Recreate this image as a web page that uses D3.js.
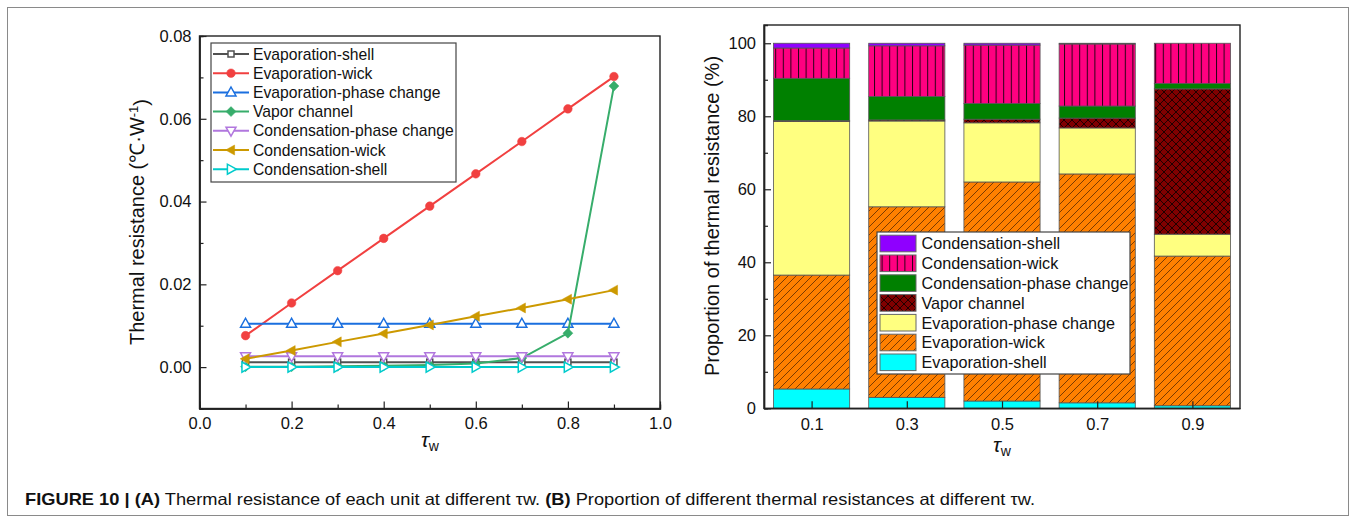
<!DOCTYPE html>
<html><head><meta charset="utf-8">
<script src="https://cdn.jsdelivr.net/npm/d3@7"></script>
<style>
body{margin:0;background:#fff}
svg{display:block}
text{font-family:"Liberation Sans",Arial,sans-serif;fill:#111}
</style>
</head><body>
<svg id="c" width="1356" height="523"></svg>
<script>
// ---------- DATA: panel A (thermal resistance, °C/W) ----------
const tauW = [0.1, 0.2, 0.3, 0.4, 0.5, 0.6, 0.7, 0.8, 0.9];
const evapShell   = [0.0012, 0.0012, 0.0012, 0.0012, 0.0012, 0.0012, 0.0012, 0.0012, 0.0012];
const evapWick    = [0.0076, 0.0155, 0.0233, 0.0311, 0.0389, 0.0467, 0.0545, 0.0624, 0.0702];
const evapPhase   = [0.0105, 0.0105, 0.0105, 0.0105, 0.0105, 0.0105, 0.0105, 0.0105, 0.0105];
const vaporChan   = [0.0001, 0.0001, 0.0002, 0.0003, 0.0005, 0.0009, 0.0022, 0.0082, 0.0679];
const condPhase   = [0.0026, 0.0026, 0.0026, 0.0026, 0.0026, 0.0026, 0.0026, 0.0026, 0.0026];
const condWick    = [0.0020, 0.0040, 0.0061, 0.0081, 0.0102, 0.0123, 0.0143, 0.0164, 0.0186];
const condShell   = [0.0000, 0.0000, 0.0000, 0.0000, 0.0000, 0.0000, 0.0000, 0.0000, 0.0000];
const yTicksA = [0.00, 0.02, 0.04, 0.06, 0.08];
const xTicksA = [0.0, 0.2, 0.4, 0.6, 0.8, 1.0];

// ---------- DATA: panel B (proportion, %) ----------
const barCats     = [0.1, 0.3, 0.5, 0.7, 0.9];
const pEvapShell  = [5.3, 3.0, 2.0, 1.5, 0.7];
const pEvapWick   = [31.2, 52.2, 60.0, 62.7, 41.0];
const pEvapPhase  = [42.1, 23.5, 16.2, 12.6, 6.0];
const pVapor      = [0.2, 0.3, 1.0, 2.7, 39.8];
const pCondPhase  = [11.6, 6.4, 4.3, 3.3, 1.5];
const pCondWick   = [8.3, 13.9, 16.0, 17.0, 11.0];
const pCondShell  = [1.3, 0.7, 0.5, 0.2, 0.0];
const yTicksB = [0, 20, 40, 60, 80, 100];

const svg = d3.select("#c");
const defs = svg.append("defs");

// outer frame
svg.append("rect").attr("x",7.5).attr("y",7.5).attr("width",1341).attr("height",508)
  .attr("fill","none").attr("stroke","#8a8a8a").attr("stroke-width",1);

// ================= PANEL A =================
const xA = d3.scaleLinear().domain([0,1]).range([199.5,660]);
const yA = d3.scaleLinear().domain([-0.01,0.08]).range([408.5,36]);
const gA = svg.append("g");

function axisStyle(g){
  g.selectAll(".domain").attr("stroke","#222").attr("stroke-width",1.4);
  g.selectAll(".tick line").attr("stroke","#222").attr("stroke-width",1.2);
  g.selectAll("text").style("font-size","16.5px").attr("fill","#111");
}
gA.append("rect").attr("x",xA(0)).attr("y",yA(0.08)).attr("width",xA(1)-xA(0)).attr("height",yA(-0.01)-yA(0.08))
  .attr("fill","none").attr("stroke","#222").attr("stroke-width",1.4);
gA.append("g").attr("transform",`translate(0,${yA(-0.01)})`)
  .call(d3.axisBottom(xA).tickValues(d3.range(0.1,1,0.2)).tickSize(-4).tickFormat(""))
  .call(axisStyle);
gA.append("g").attr("transform",`translate(${xA(0)},0)`)
  .call(d3.axisLeft(yA).tickValues([-0.01,0.01,0.03,0.05,0.07]).tickSize(-4).tickFormat(""))
  .call(axisStyle);
gA.append("g").attr("transform",`translate(0,${yA(-0.01)})`)
  .call(d3.axisBottom(xA).tickValues(xTicksA).tickSizeInner(-7).tickSizeOuter(0).tickPadding(9).tickFormat(d3.format(".1f")))
  .call(axisStyle);
gA.append("g").attr("transform",`translate(${xA(0)},0)`)
  .call(d3.axisLeft(yA).tickValues(yTicksA).tickSizeInner(-7).tickSizeOuter(0).tickPadding(8).tickFormat(d3.format(".2f")))
  .call(axisStyle);

function tri(dir, s){
  const h = s*0.9, w = s;
  let pts;
  if(dir==="up") pts=[[0,-h*0.6],[w/2,h*0.4],[-w/2,h*0.4]];
  if(dir==="down") pts=[[0,h*0.6],[w/2,-h*0.4],[-w/2,-h*0.4]];
  if(dir==="left") pts=[[-h*0.6,0],[h*0.4,-w/2],[h*0.4,w/2]];
  if(dir==="right") pts=[[h*0.6,0],[-h*0.4,-w/2],[-h*0.4,w/2]];
  return "M"+pts.map(p=>p.join(",")).join("L")+"Z";
}
const seriesA = [
  {name:"Evaporation-shell", vals:evapShell, color:"#515151", mk:"square", fill:false},
  {name:"Evaporation-wick", vals:evapWick, color:"#F14040", mk:"circle", fill:true},
  {name:"Evaporation-phase change", vals:evapPhase, color:"#1A6FDF", mk:"up", fill:false},
  {name:"Vapor channel", vals:vaporChan, color:"#37AD6B", mk:"diamond", fill:true},
  {name:"Condensation-phase change", vals:condPhase, color:"#B177DE", mk:"down", fill:false},
  {name:"Condensation-wick", vals:condWick, color:"#CC9900", mk:"left", fill:true},
  {name:"Condensation-shell", vals:condShell, color:"#00CBCC", mk:"right", fill:false}
];
function drawMarker(g, s, x, y){
  let el;
  if(s.mk==="circle") el = g.append("circle").attr("cx",x).attr("cy",y).attr("r",4.3);
  else if(s.mk==="square") el = g.append("rect").attr("x",x-3).attr("y",y-3).attr("width",6).attr("height",6);
  else if(s.mk==="diamond") el = g.append("path").attr("d",`M${x},${y-5}L${x+5},${y}L${x},${y+5}L${x-5},${y}Z`);
  else el = g.append("path").attr("transform",`translate(${x},${y})`).attr("d",tri(s.mk,10));
  el.attr("fill", s.fill? s.color : "#fff").attr("stroke", s.color).attr("stroke-width", s.fill?0.5:1.5);
}
const line = d3.line().x(d=>xA(d[0])).y(d=>yA(d[1]));
const linesG = gA.append("g");
seriesA.forEach(s=>{
  const pts = tauW.map((t,i)=>[t,s.vals[i]]);
  const g = linesG.append("g");
  g.append("path").attr("d",line(pts)).attr("fill","none").attr("stroke",s.color).attr("stroke-width",2);
  pts.forEach(p=>drawMarker(g,s,xA(p[0]),yA(p[1])));
});
const legA = gA.append("g");
legA.append("rect").attr("x",211).attr("y",43).attr("width",245).attr("height",139)
  .attr("fill","#fff").attr("stroke","#444").attr("stroke-width",1.2);
seriesA.forEach((s,i)=>{
  const y = 54 + i*19.2;
  legA.append("line").attr("x1",213).attr("x2",249).attr("y1",y).attr("y2",y).attr("stroke",s.color).attr("stroke-width",2);
  drawMarker(legA,s,231,y);
  legA.append("text").attr("x",253).attr("y",y).attr("dy","0.36em").style("font-size","15.7px").text(s.name);
});
const tA = gA.append("text").attr("transform","translate(144,222) rotate(-90)").attr("text-anchor","middle").style("font-size","20px");
tA.append("tspan").text("Thermal resistance (℃·W");
tA.append("tspan").attr("dy","-0.5em").style("font-size","13px").text("-1");
tA.append("tspan").attr("dy","0.5em").text(")");
const xtA = gA.append("text").attr("x",430).attr("y",447).attr("text-anchor","middle").style("font-size","21px");
xtA.append("tspan").style("font-style","italic").text("τ");
xtA.append("tspan").attr("dy","0.3em").style("font-size","14px").text("w");

// ================= PANEL B =================
const xB = d3.scaleLinear().domain([0,1]).range([764,1240]);
const yB = d3.scaleLinear().domain([0,105]).range([408.3,25]);
const gB = svg.append("g");

function pat(id,w,h){ return defs.append("pattern").attr("id",id).attr("patternUnits","userSpaceOnUse").attr("width",w).attr("height",h); }
const pw = pat("pCondWick",7.6,10);
pw.append("rect").attr("width",7.6).attr("height",10).attr("fill","#FF0080");
pw.append("line").attr("x1",0.5).attr("x2",0.5).attr("y1",0).attr("y2",10).attr("stroke","#2a0016").attr("stroke-width",1);
const pv = pat("pVapor",8,8);
pv.append("rect").attr("width",8).attr("height",8).attr("fill","#800000");
pv.append("path").attr("d","M0,0L8,8M8,0L0,8").attr("stroke","#150000").attr("stroke-width",0.9);
const pe = pat("pEvapWick",8,8);
pe.append("rect").attr("width",8).attr("height",8).attr("fill","#FF8000");
pe.append("path").attr("d","M0,8L8,0M-2,2L2,-2M6,10L10,6").attr("stroke","#5a2a00").attr("stroke-width",0.8);

const seriesB = [
  {name:"Evaporation-shell", key:"es", vals:pEvapShell, fill:"#00FFFF"},
  {name:"Evaporation-wick", key:"ew", vals:pEvapWick, fill:"url(#pEvapWick)"},
  {name:"Evaporation-phase change", key:"ep", vals:pEvapPhase, fill:"#FFFF80"},
  {name:"Vapor channel", key:"vc", vals:pVapor, fill:"url(#pVapor)"},
  {name:"Condensation-phase change", key:"cp", vals:pCondPhase, fill:"#008000"},
  {name:"Condensation-wick", key:"cw", vals:pCondWick, fill:"url(#pCondWick)"},
  {name:"Condensation-shell", key:"cs", vals:pCondShell, fill:"#8F00FF"}
];
const table = barCats.map((c,i)=>{ const o={cat:c}; seriesB.forEach(s=>o[s.key]=s.vals[i]); return o; });
const stack = d3.stack().keys(seriesB.map(s=>s.key))(table);
const barW = xB(0.16)-xB(0);
stack.forEach((layer,li)=>{
  gB.append("g").selectAll("rect").data(layer).join("rect")
    .attr("x",d=>xB(d.data.cat)-barW/2).attr("width",barW)
    .attr("y",d=>yB(d[1])).attr("height",d=>Math.max(0,yB(d[0])-yB(d[1])))
    .attr("fill",seriesB[li].fill).attr("stroke","#555").attr("stroke-width",0.8);
});
gB.append("rect").attr("x",xB(0)).attr("y",yB(105)).attr("width",xB(1)-xB(0)).attr("height",yB(0)-yB(105))
  .attr("fill","none").attr("stroke","#222").attr("stroke-width",1.4);
gB.append("g").attr("transform",`translate(${xB(0)},0)`)
  .call(d3.axisLeft(yB).tickValues([10,30,50,70,90]).tickSize(-4).tickFormat(""))
  .call(axisStyle);
gB.append("g").attr("transform",`translate(${xB(0)},0)`)
  .call(d3.axisLeft(yB).tickValues(yTicksB).tickSizeInner(-7).tickSizeOuter(0).tickPadding(8))
  .call(axisStyle);
gB.append("g").attr("transform",`translate(0,${yB(0)})`)
  .call(d3.axisBottom(xB).tickValues(barCats).tickSizeInner(-7).tickSizeOuter(0).tickPadding(10).tickFormat(d3.format(".1f")))
  .call(axisStyle);

const legB = gB.append("g");
legB.append("rect").attr("x",877).attr("y",232).attr("width",253).attr("height",142)
  .attr("fill","#fff").attr("stroke","#444").attr("stroke-width",1.2);
seriesB.slice().reverse().forEach((s,i)=>{
  const y = 243.5 + i*19.8;
  legB.append("rect").attr("x",880).attr("y",y-8.3).attr("width",36).attr("height",16.6)
    .attr("fill",s.fill).attr("stroke","#666").attr("stroke-width",1);
  legB.append("text").attr("x",921.5).attr("y",y).attr("dy","0.36em").style("font-size","16.2px").text(s.name);
});
gB.append("text").attr("transform","translate(719,216) rotate(-90)").attr("text-anchor","middle").style("font-size","20px")
  .text("Proportion of thermal resistance (%)");
const xtB = gB.append("text").attr("x",1002).attr("y",452).attr("text-anchor","middle").style("font-size","21px");
xtB.append("tspan").style("font-style","italic").text("τ");
xtB.append("tspan").attr("dy","0.3em").style("font-size","14px").text("w");

const cap = svg.append("text").attr("x",25).attr("y",505)
  .style("font-family","'Liberation Sans Narrow','Liberation Sans',Arial,sans-serif").style("font-size","16.5px")
  .attr("textLength",1010).attr("lengthAdjust","spacingAndGlyphs");
cap.append("tspan").style("font-weight","bold").text("FIGURE 10 | (A)");
cap.append("tspan").text(" Thermal resistance of each unit at different τw. ");
cap.append("tspan").style("font-weight","bold").text("(B)");
cap.append("tspan").text(" Proportion of different thermal resistances at different τw.");
</script>
</body></html>
